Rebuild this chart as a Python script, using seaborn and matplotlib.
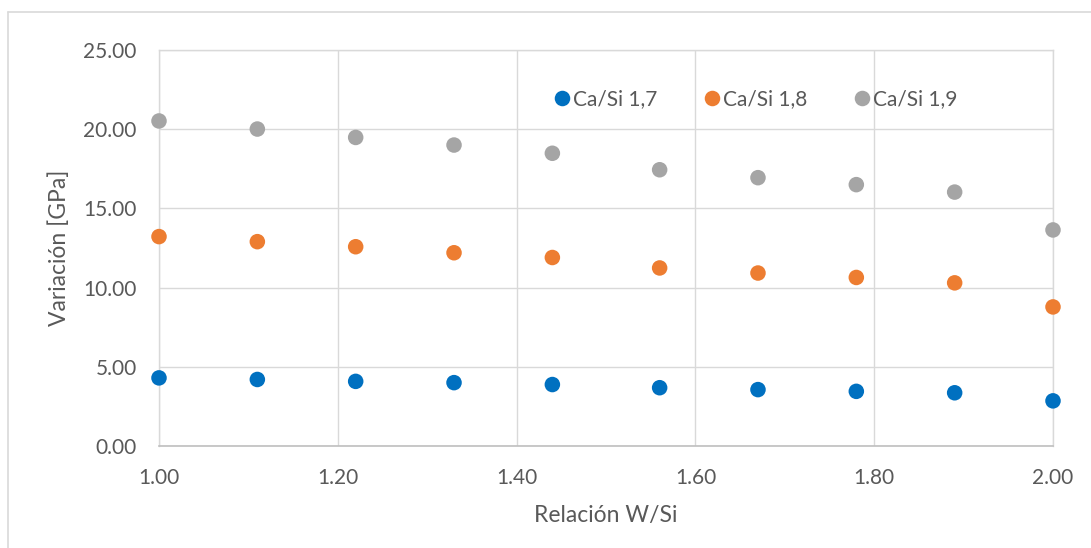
import numpy as np
import pandas as pd
import matplotlib
matplotlib.use("Agg")
import matplotlib.pyplot as plt
import seaborn as sns
from matplotlib.lines import Line2D

# ---- data ----
ratio_w_si = [1.00, 1.11, 1.22, 1.33, 1.44, 1.56, 1.67, 1.78, 1.89, 2.00]
ca_si_17 = [4.30, 4.20, 4.08, 4.00, 3.88, 3.68, 3.56, 3.45, 3.36, 2.85]
ca_si_18 = [13.22, 12.90, 12.58, 12.20, 11.90, 11.24, 10.92, 10.64, 10.30, 8.78]
ca_si_19 = [20.52, 20.01, 19.48, 19.00, 18.48, 17.44, 16.94, 16.50, 16.03, 13.64]
series_names = ["Ca/Si 1,7", "Ca/Si 1,8", "Ca/Si 1,9"]
colors = ["#0070C0", "#ED7D31", "#A5A5A5"]
x_ticks = [1.00, 1.20, 1.40, 1.60, 1.80, 2.00]
y_ticks = [0, 5, 10, 15, 20, 25]

df = pd.DataFrame({
    "x": ratio_w_si * 3,
    "y": ca_si_17 + ca_si_18 + ca_si_19,
    "serie": [series_names[0]] * 10 + [series_names[1]] * 10 + [series_names[2]] * 10,
})

sns.set_theme(style="white")
plt.rcParams["font.family"] = ["Lato", "DejaVu Sans"]

W, H = 1091, 548
fig = plt.figure(figsize=(W / 100, H / 100), dpi=100)
ax = fig.add_axes([159 / W, (H - 446) / H, (1053 - 159) / W, (446 - 50) / H])

sns.scatterplot(data=df, x="x", y="y", hue="serie", palette=colors,
                hue_order=series_names, s=125, edgecolor="none",
                linewidth=0, ax=ax, zorder=3, clip_on=False)

ax.set_xlim(1.0, 2.0)
ax.set_ylim(0, 25)
ax.set_xticks(x_ticks)
ax.set_yticks(y_ticks)
ax.set_xticklabels([f"{v:.2f}" for v in x_ticks])
ax.set_yticklabels([f"{v:.2f}" for v in y_ticks])
ax.grid(True, color="#D9D9D9", linewidth=1.0, zorder=0)
ax.set_axisbelow(True)
ax.tick_params(axis="both", length=0, labelsize=15, colors="#595959")
ax.tick_params(axis="y", pad=16)
ax.tick_params(axis="x", pad=16)
for side in ["top", "right", "left"]:
    ax.spines[side].set_color("#D9D9D9")
    ax.spines[side].set_linewidth(1.0)
ax.spines["bottom"].set_color("#BFBFBF")
ax.spines["bottom"].set_linewidth(1.2)

ax.set_xlabel("Relación W/Si", fontsize=16.5, color="#595959", labelpad=12)
ax.set_ylabel("Variación [GPa]", fontsize=16.5, color="#595959", labelpad=10)

leg = ax.legend(loc="center", bbox_to_anchor=(0.666, 0.876), ncol=3,
                frameon=False, fontsize=15, handletextpad=0.05,
                columnspacing=2.1, markerscale=1.0, handlelength=1.0)
for t in leg.get_texts():
    t.set_color("#595959")

# outer chart border
fig.add_artist(Line2D([8 / W, 8 / W], [0, (H - 12) / H], transform=fig.transFigure,
                      color="#D9D9D9", linewidth=1.2))
fig.add_artist(Line2D([8 / W, 1], [(H - 12) / H, (H - 12) / H], transform=fig.transFigure,
                      color="#D9D9D9", linewidth=1.2))

fig.savefig("out.png", dpi=100)
